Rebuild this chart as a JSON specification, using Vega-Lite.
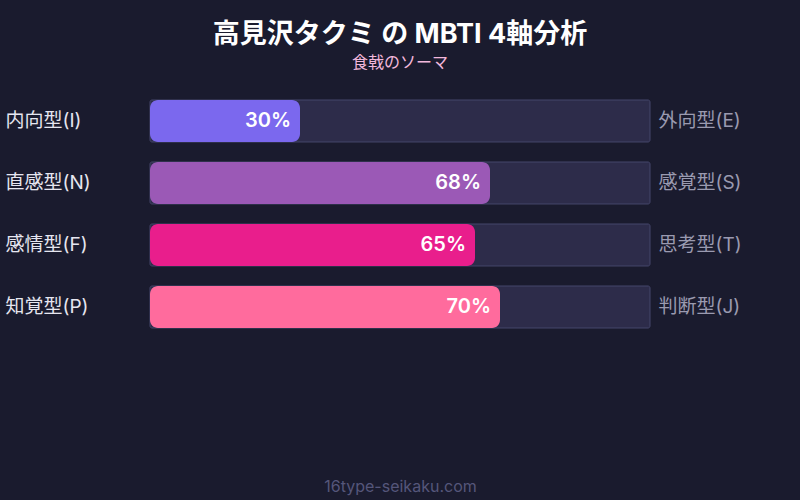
{
  "$schema": "https://vega.github.io/schema/vega-lite/v6.json",
  "width": 800,
  "height": 500,
  "autosize": "none",
  "padding": 0,
  "background": "#1a1b2e",
  "title": {
    "text": "高見沢タクミ の MBTI 4軸分析",
    "subtitle": "食戟のソーマ",
    "anchor": "middle",
    "frame": "group",
    "offset": -72,
    "font": "Inter, Noto Sans CJK JP",
    "fontSize": 27,
    "fontWeight": "bold",
    "color": "#ffffff",
    "subtitleFont": "Noto Sans CJK JP",
    "subtitleFontSize": 16,
    "subtitleColor": "#f3b8dc",
    "subtitlePadding": 6
  },
  "data": {
    "values": [
      {"pair": "IE", "left": "内向型(I)", "right": "外向型(E)", "value": 30},
      {"pair": "NS", "left": "直感型(N)", "right": "感覚型(S)", "value": 68},
      {"pair": "FT", "left": "感情型(F)", "right": "思考型(T)", "value": 65},
      {"pair": "PJ", "left": "知覚型(P)", "right": "判断型(J)", "value": 70}
    ]
  },
  "transform": [{"calculate": "datum.value + '%'", "as": "label"}],
  "layer": [
    {
      "mark": {"type": "bar", "color": "#2d2c4a", "stroke": "#45466a", "strokeWidth": 1, "cornerRadius": 2},
      "encoding": {
        "x": {"datum": 0, "type": "quantitative", "scale": {"domain": [-30, 130], "range": [0, 800], "nice": false, "zero": false}},
        "x2": {"datum": 100},
        "y": {
          "field": "right", "type": "nominal", "sort": null,
          "scale": {"range": [100, 328], "paddingInner": 0.3226, "paddingOuter": 0},
          "axis": {
            "orient": "right", "offset": -150, "title": null, "domain": false, "ticks": false, "tickSize": 0,
            "labelPadding": 8, "labelAlign": "left", "labelFont": "Inter, Noto Sans CJK JP",
            "labelFontSize": 19, "labelColor": "#9a9ab0"
          }
        }
      }
    },
    {
      "mark": {"type": "bar", "cornerRadius": 8},
      "encoding": {
        "x": {
          "field": "value", "type": "quantitative",
          "axis": {
            "orient": "bottom", "offset": -22, "title": "16type-seikaku.com", "labels": false, "ticks": false,
            "domain": false, "grid": false, "titlePadding": 0, "titleFont": "Inter, Noto Sans CJK JP",
            "titleFontSize": 16, "titleFontWeight": "normal", "titleColor": "#55567a"
          }
        },
        "x2": {"datum": 0},
        "y": {
          "field": "left", "type": "nominal", "sort": null,
          "scale": {"range": [100, 328], "paddingInner": 0.3226, "paddingOuter": 0},
          "axis": {
            "orient": "left", "offset": -150, "title": null, "domain": false, "ticks": false, "tickSize": 0,
            "labelPadding": 145, "labelAlign": "left", "labelFont": "Inter, Noto Sans CJK JP",
            "labelFontSize": 19, "labelColor": "#e6e6f0"
          }
        },
        "color": {
          "field": "pair", "type": "nominal", "legend": null,
          "scale": {"domain": ["IE", "NS", "FT", "PJ"], "range": ["#7b68ee", "#9b59b6", "#e91e8c", "#ff6b9d"]}
        }
      }
    },
    {
      "mark": {"type": "text", "align": "right", "baseline": "middle", "dx": -9, "font": "Inter, Noto Sans CJK JP", "fontSize": 20, "fontWeight": 600, "color": "#ffffff"},
      "encoding": {
        "x": {"field": "value", "type": "quantitative"},
        "y": {
          "field": "left", "type": "nominal", "sort": null,
          "scale": {"type": "band", "range": [100, 328], "paddingInner": 0.3226, "paddingOuter": 0},
          "axis": null
        },
        "text": {"field": "label", "type": "nominal"}
      }
    }
  ],
  "resolve": {"scale": {"y": "independent"}, "axis": {"y": "independent"}},
  "config": {"view": {"stroke": null}}
}
